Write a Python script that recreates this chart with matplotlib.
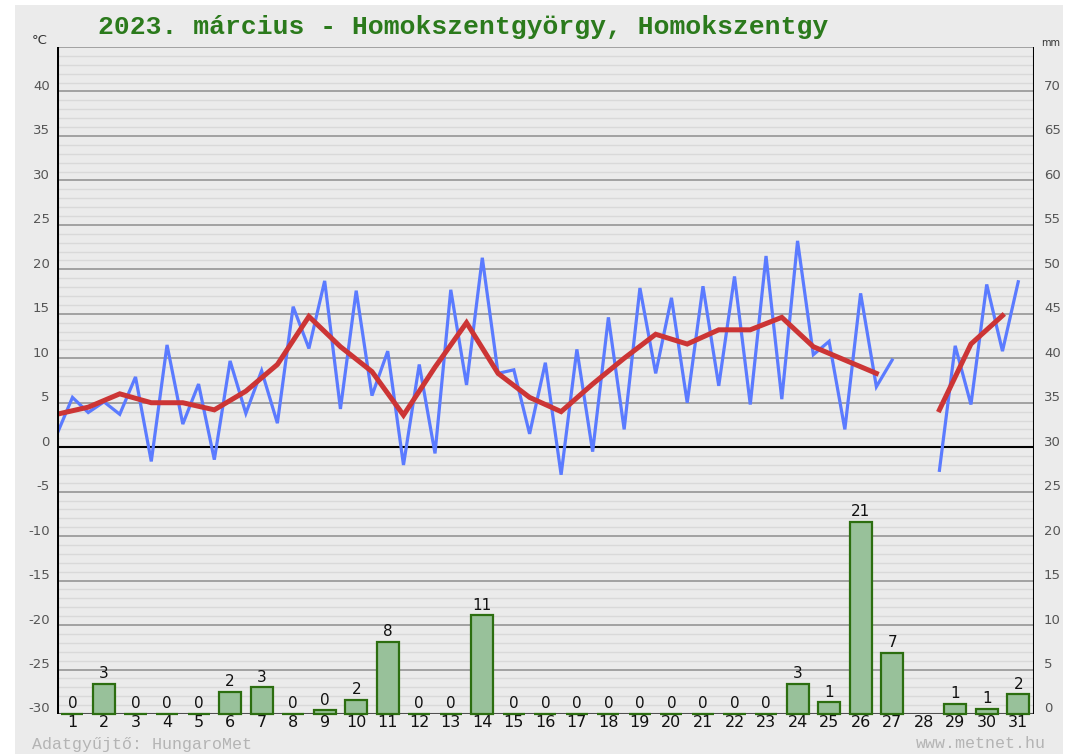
import matplotlib
matplotlib.use("Agg")
import matplotlib.pyplot as plt
import numpy as np
from matplotlib.patches import Rectangle
from matplotlib.transforms import blended_transform_factory, offset_copy

# --- data ---
days = list(range(1, 32))

# daily mean temperature (red), one value per day, day 28 missing
daily_mean = [3.7, 4.5, 6.0, 5.0, 5.0, 4.2, 6.3, 9.3, 14.7, 11.3,
              8.5, 3.6, 9.0, 14.0, 8.3, 5.6, 4.0, 7.1, 10.0, 12.7,
              11.6, 13.2, 13.2, 14.6, 11.3, 9.8, 8.3, np.nan, 4.2, 11.6,
              14.8]

# half-daily temperature (blue), two values per day
temp_halfday = [1.4, 5.6, 3.9, 5.1, 3.7, 7.9, -1.6, 11.5, 2.6, 7.1,
                -1.4, 9.7, 3.8, 8.6, 2.7, 15.8, 11.1, 18.7, 4.3, 17.6,
                5.8, 10.8, -2.0, 9.3, -0.7, 17.7, 7.0, 21.3, 8.3, 8.7,
                1.5, 9.5, -3.1, 11.0, -0.5, 14.6, 2.0, 17.9, 8.3, 16.8,
                5.0, 18.1, 6.9, 19.2, 4.8, 21.5, 5.4, 23.2, 10.4, 11.9,
                2.0, 17.3, 6.8, 9.8, np.nan, np.nan, -2.6, 11.4, 4.8, 18.3,
                10.8, 18.6]

# precipitation (mm) and the printed labels
precip = [0, 3.4, 0, 0, 0, 2.5, 3.0, 0, 0.4, 1.6,
          8.1, 0, 0, 11.1, 0, 0, 0, 0, 0, 0,
          0, 0, 0, 3.4, 1.3, 21.6, 6.9, np.nan, 1.1, 0.6,
          2.2]
precip_labels = ['0', '3', '0', '0', '0', '2', '3', '0', '0', '2',
                 '8', '0', '0', '11', '0', '0', '0', '0', '0', '0',
                 '0', '0', '0', '3', '1', '21', '7', '', '1', '1',
                 '2']

temp_ticks = list(range(-30, 45, 5))
mm_ticks = list(range(0, 75, 5))

title = "2023. március - Homokszentgyörgy, Homokszentgy"

bg = '#ebebeb'
fig = plt.figure(figsize=(10.82, 7.54), dpi=100)
fig.patch.set_facecolor('white')
fig.patches.append(Rectangle((15 / 1082, 0), 1048 / 1082, 1 - 5 / 754,
                             transform=fig.transFigure, facecolor=bg,
                             edgecolor='none', zorder=-10))

ax = fig.add_axes([56.7 / 1082, 1 - 714 / 754, 977.3 / 1082, 667 / 754])
ax.set_facecolor(bg)
ax.set_xlim(0, 31)
ax.set_ylim(-30, 45)

# grid lines
for t in range(-29, 46):
    if t == 0:
        ax.axhline(t, color='black', lw=1.5, zorder=2)
    elif t % 5 == 0:
        ax.axhline(t, color='#9c9c9c', lw=1.3, zorder=1)
    else:
        ax.axhline(t, color='#d9d9d9', lw=1.0, zorder=1)
ax.axhline(-30, color='#505050', lw=1.5, zorder=1)

x_half = np.arange(len(temp_halfday)) / 2
x_day = np.arange(len(daily_mean))
ax.plot(x_half, temp_halfday, color='#5b7bff', lw=2.3, zorder=3,
        solid_joinstyle='miter')
ax.plot(x_day, daily_mean, color='#cc3535', lw=3.6, zorder=4,
        solid_joinstyle='miter')

for side in ['top', 'bottom', 'left', 'right']:
    ax.spines[side].set_visible(False)

ax.set_yticks([])
ax.set_xticks(np.array(days) - 0.5)
ax.set_xticklabels([str(d) for d in days], fontsize=11.5, color='#111111')
ax.tick_params(axis='x', length=0, pad=1)

# mm axis for the bars
ax2 = ax.twinx()
ax2.set_ylim(0, 75)
ax2.set_xlim(0, 31)
ax2.set_zorder(ax.get_zorder() + 1)
ax2.patch.set_visible(False)
ax2.set_yticks([])
for side in ['top', 'bottom', 'left', 'right']:
    ax2.spines[side].set_visible(False)

xc = np.array(days) - 0.5
pr = np.array(precip, dtype=float)
ok = ~np.isnan(pr)
ax2.bar(xc[ok], pr[ok], width=0.7, color='#98c19a', edgecolor='#2c6e10',
        linewidth=1.6, zorder=6, clip_on=False)
for x, v, lab in zip(xc, pr, precip_labels):
    if np.isnan(v):
        continue
    ax2.annotate(lab, (x, v), xytext=(0, 2), textcoords='offset points',
                 ha='center', va='bottom', fontsize=11, color='#111111')

# axis lines
ax2.axvline(0, color='black', lw=2.2, zorder=5)
ax2.axvline(31, color='black', lw=2.2, zorder=5)

# y tick labels, sitting just above their grid lines
tl = offset_copy(blended_transform_factory(ax.transAxes, ax.transData),
                 fig=fig, x=-7, y=5, units='dots')
for t in temp_ticks:
    ax.text(0, t, str(t), transform=tl, ha='right', va='center',
            fontsize=9.5, color='#555555')
tr = offset_copy(blended_transform_factory(ax2.transAxes, ax2.transData),
                 fig=fig, x=10, y=5, units='dots')
for m in mm_ticks:
    ax2.text(1, m, str(m), transform=tr, ha='left', va='center',
             fontsize=9.5, color='#555555')

fig.text(40 / 1082, 1 - 40 / 754, '°C', ha='center', va='center',
         fontsize=9.5, color='#333333')
fig.text(1051 / 1082, 1 - 43 / 754, 'mm', ha='center', va='center',
         fontsize=7, color='#333333')

fig.text(98 / 1082, 1 - 27 / 754, title, ha='left', va='center',
         fontsize=19, color='#2b7a1c', family='Liberation Mono',
         fontweight='bold')
fig.text(32 / 1082, 1 - 744 / 754, 'Adatgyűjtő: HungaroMet', ha='left',
         va='center', fontsize=12, color='#b4b4b4', family='Liberation Mono')
fig.text(1046 / 1082, 1 - 744 / 754, 'www.metnet.hu', ha='right',
         va='center', fontsize=12, color='#b4b4b4', family='Liberation Mono')

fig.savefig('out.png', dpi=100, facecolor=fig.get_facecolor())
